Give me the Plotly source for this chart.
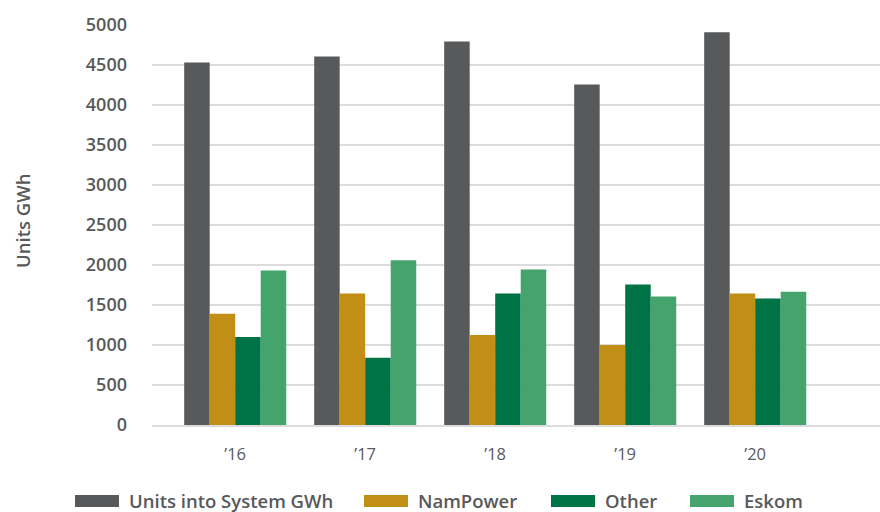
import plotly.graph_objects as go

# Annual electricity supply, GWh
years = ["\u201916", "\u201917", "\u201918", "\u201919", "\u201920"]
series_names = ["Units into System GWh", "NamPower", "Other", "Eskom"]
units_into_system = [4530, 4605, 4795, 4255, 4910]
nampower = [1390, 1645, 1125, 1000, 1645]
other = [1100, 840, 1645, 1755, 1580]
eskom = [1930, 2060, 1945, 1605, 1665]
y_ticks = [0, 500, 1000, 1500, 2000, 2500, 3000, 3500, 4000, 4500, 5000]

colors = ["#58595B", "#C18F15", "#007346", "#45A46C"]
all_values = [units_into_system, nampower, other, eskom]

FONT = "Open Sans"
TEXT_COLOR = "#58595B"
GRID_COLOR = "#DCDCDC"

fig = go.Figure()
for name, vals, col in zip(series_names, all_values, colors):
    fig.add_trace(go.Bar(
        x=years, y=vals, name=name,
        marker=dict(color=col, line=dict(width=0)),
        showlegend=False,
    ))

# Plot area geometry (pixels) used for the hand-built legend and axis title
W, H = 880, 512
L, R, T, B = 152, 0, 25, 87
pw, ph = W - L - R, H - T - B

def px_x(x):
    return (x - L) / pw

def px_y(y):
    return (H - B - y) / ph

shapes = []
annotations = []

# Legend: wide colour swatch followed by semibold label
legend_x = [75, 364, 551, 690]
sw_w, sw_top, sw_bot = 44, 495, 507
for name, col, x0 in zip(series_names, colors, legend_x):
    shapes.append(dict(
        type="rect", xref="paper", yref="paper",
        x0=px_x(x0), x1=px_x(x0 + sw_w),
        y0=px_y(sw_bot), y1=px_y(sw_top),
        fillcolor=col, line=dict(width=0), layer="above",
    ))
    annotations.append(dict(
        text=name, xref="paper", yref="paper",
        x=px_x(x0 + sw_w + 8), y=px_y(500),
        xanchor="left", yanchor="middle", showarrow=False,
        font=dict(family=FONT, size=18.5, weight=600, color=TEXT_COLOR),
    ))

# Y axis title
annotations.append(dict(
    text="Units GWh", xref="paper", yref="paper",
    x=px_x(22), y=px_y(221), xanchor="center", yanchor="middle",
    textangle=-90, showarrow=False,
    font=dict(family=FONT, size=18.5, weight=600, color=TEXT_COLOR),
))

fig.update_layout(
    width=W, height=H,
    margin=dict(l=L, r=R, t=T, b=B, pad=0),
    paper_bgcolor="white", plot_bgcolor="white",
    barmode="group", bargap=0.215, bargroupgap=0,
    shapes=shapes, annotations=annotations,
    showlegend=False,
    font=dict(family=FONT, color=TEXT_COLOR),
)

fig.update_xaxes(
    type="category", range=[-0.64, 4.96],
    showgrid=False, zeroline=False,
    showline=True, linecolor=GRID_COLOR, linewidth=2,
    ticks="", ticklabelstandoff=13,
    tickfont=dict(family=FONT, size=16.5, color=TEXT_COLOR),
)

fig.update_yaxes(
    range=[0, 5000],
    tickvals=y_ticks,
    showgrid=True, gridcolor=GRID_COLOR, gridwidth=1.5,
    zeroline=False, showline=False,
    ticks="", ticklabelstandoff=24,
    tickfont=dict(family=FONT, size=18, weight=600, color=TEXT_COLOR),
)

fig.write_html("out.html")
